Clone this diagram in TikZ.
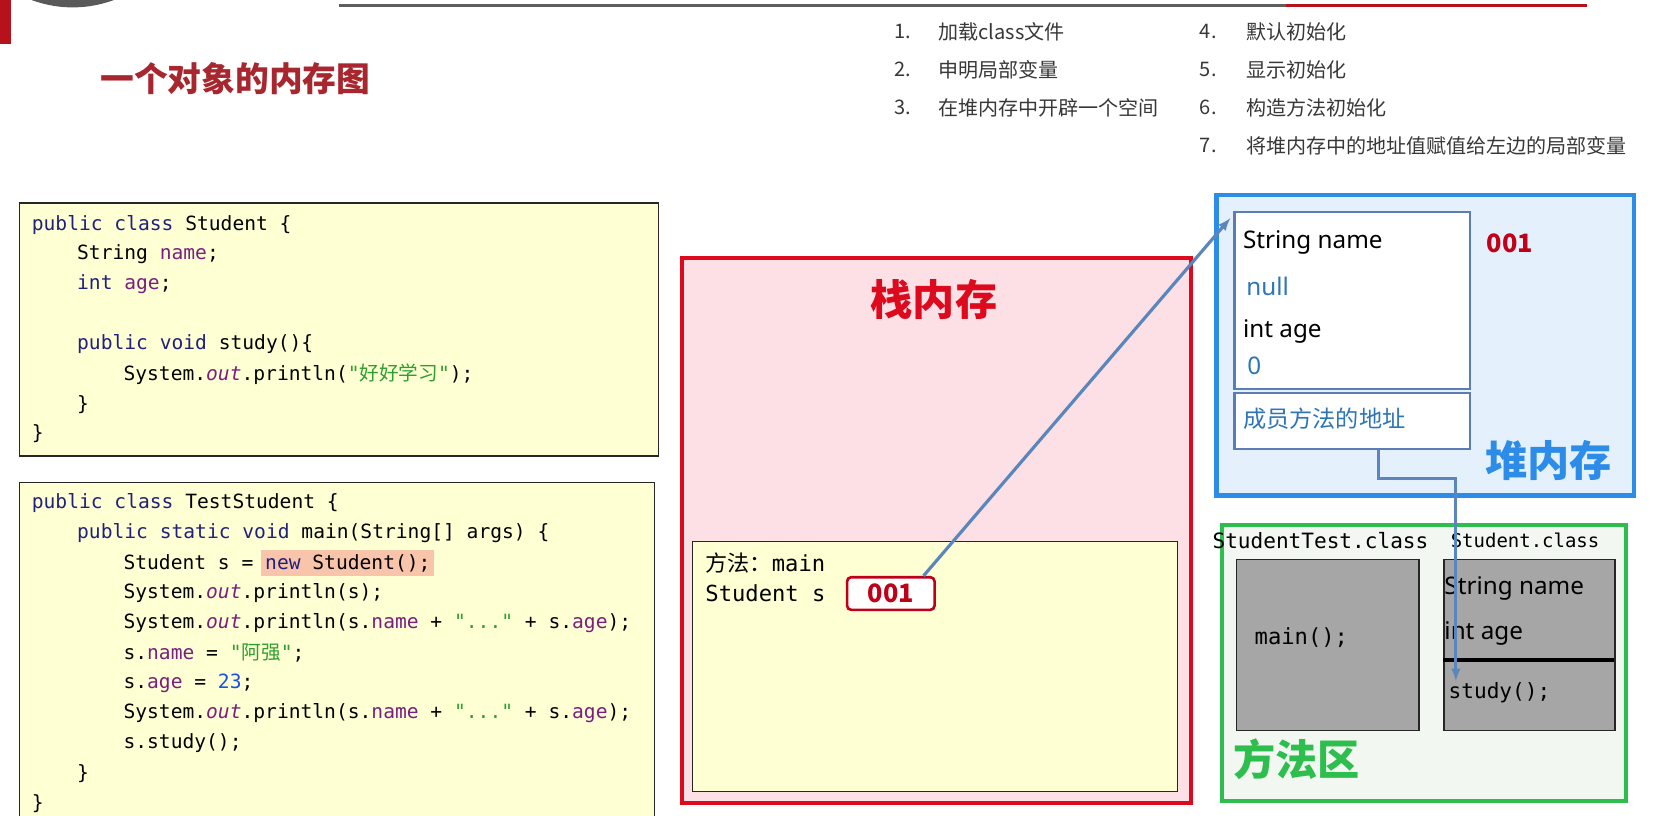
\documentclass[tikz,border=0pt]{standalone}
\usepackage{fontspec}
\setmainfont{Noto Sans}
\setmonofont{DejaVu Sans Mono}
\newfontfamily\cjk{Noto Sans CJK SC}
\usetikzlibrary{positioning}

\definecolor{rulegray}{HTML}{5E5E5E}
\definecolor{rulered}{HTML}{B5121B}
\definecolor{titlered}{HTML}{A8262E}
\definecolor{codeyellow}{HTML}{FFFFD4}
\definecolor{hlsalmon}{HTML}{F8C4AA}
\definecolor{kwblue}{HTML}{20207E}
\definecolor{fdpurple}{HTML}{7A1E82}
\definecolor{strgreen}{HTML}{2E9E2E}
\definecolor{numblue}{HTML}{1750EB}
\definecolor{stackred}{HTML}{DD0A1E}
\definecolor{stackpink}{HTML}{FDE0E5}
\definecolor{addrred}{HTML}{C00018}
\definecolor{refblue}{HTML}{5A86BD}
\definecolor{heapblue}{HTML}{2C8CE8}
\definecolor{heapfill}{HTML}{E4F1FC}
\definecolor{objblue}{HTML}{5B7DB1}
\definecolor{valblue}{HTML}{2E75B6}
\definecolor{areagreen}{HTML}{2DBE4E}
\definecolor{areafill}{HTML}{F3F7F1}
\definecolor{boxgray}{HTML}{A6A6A6}

\newcommand\jkw[1]{\textcolor{kwblue}{#1}}
\newcommand\jfd[1]{\textcolor{fdpurple}{#1}}
\newcommand\jout[1]{\textcolor{fdpurple}{\itshape #1}}
\newcommand\jstr[1]{\textcolor{strgreen}{#1}}
\newcommand\jnum[1]{\textcolor{numblue}{#1}}

\begin{document}
\begin{tikzpicture}[
  x=1pt, y=-1pt,
  every node/.style={inner sep=0pt},
  code/.style={anchor=west, font=\fontsize{18.6}{20}\selectfont\ttfamily},
  stepitem/.style={anchor=west, text=black!78, font=\cjk\fontsize{19}{21}\selectfont},
  region/.style={font=\cjk\bfseries\fontsize{40}{42}\selectfont},
  field/.style={anchor=west, font=\fontsize{23}{25}\selectfont},
  addrtext/.style={text=addrred, font=\cjk\bfseries\fontsize{24}{26}\selectfont},
  codebox/.style={anchor=north west, draw=black!85, line width=1.2pt, fill=codeyellow},
  objbox/.style={anchor=north west, draw=objblue, line width=2pt, fill=white},
  graybox/.style={anchor=north west, draw=black!85, line width=1.5pt, fill=boxgray},
  ref/.style={draw=refblue, line width=3pt, -latex}
]
\clip (0,0) rectangle (1568,774);
\fill[white] (0,0) rectangle (1568,774);

\fill[black!65] (69,-105) circle[radius=112pt];
\fill[rulered] (0,0) rectangle (10,42);
\draw[rulegray, line width=3pt] (322,5) -- (1220,5);
\draw[rulered, line width=3pt] (1220,5) -- (1505,5);
\node[anchor=west, text=titlered, font=\cjk\bfseries\fontsize{32}{34}\selectfont] (title) at (95,75) {一个对象的内存图};

\foreach \n/\t [count=\i from 0] in {1/加载class文件, 2/申明局部变量, 3/在堆内存中开辟一个空间} {
  \node[stepitem] (num\n) at (848,30+\i*36) {\n.};
  \node[stepitem] (txt\n) at (890,30+\i*36) {\t};
}
\foreach \n/\t [count=\i from 0] in {4/默认初始化, 5/显示初始化, 6/构造方法初始化, 7/将堆内存中的地址值赋值给左边的局部变量} {
  \node[stepitem] (num\n) at (1138,30+\i*36) {\n.};
  \node[stepitem] (txt\n) at (1182,30+\i*36) {\t};
}

\node[codebox, minimum width=606pt, minimum height=240pt] (student) at (18,192) {};
\foreach \x/\t [count=\i from 0] in {
  30/{\jkw{public} \jkw{class} Student \{},
  73/{String \jfd{name};},
  73/{\jkw{int} \jfd{age};},
  73/{},
  73/{\jkw{public} \jkw{void} study()\{},
  117/{System.\jout{out}.println(\jstr{"{\cjk 好好学习}"});},
  73/{\}},
  30/{\}}}
  \node[code] (sline\i) at (\x,213+\i*28.4) {\t};

\node[codebox, minimum width=602pt, minimum height=330pt] (test) at (18,457) {};
\fill[hlsalmon] (248,522) rectangle (412,546);
\foreach \x/\t [count=\i from 0] in {
  30/{\jkw{public} \jkw{class} TestStudent \{},
  73/{\jkw{public} \jkw{static} \jkw{void} main(String[] args) \{},
  117/{Student s = \jkw{new} Student();},
  117/{System.\jout{out}.println(s);},
  117/{System.\jout{out}.println(s.\jfd{name} + \jstr{"..."} + s.\jfd{age});},
  117/{s.\jfd{name} = \jstr{"{\cjk 阿强}"};},
  117/{s.\jfd{age} = \jnum{23};},
  117/{System.\jout{out}.println(s.\jfd{name} + \jstr{"..."} + s.\jfd{age});},
  117/{s.study();},
  73/{\}},
  30/{\}}}
  \node[code] (tline\i) at (\x,477+\i*28.5) {\t};

\node[anchor=north west, draw=stackred, line width=4pt, fill=stackpink, minimum width=483pt, minimum height=517pt] (stack) at (645,243) {};
\node[region, text=stackred] (stacklbl) at (886,284) {栈内存};
\node[codebox, minimum width=460pt, minimum height=237pt] (frame) at (656,513) {};
\node[anchor=west, font=\fontsize{21}{23}\selectfont\ttfamily] (mframe) at (669,534) {{\cjk 方法：}main};
\node[anchor=west, font=\fontsize{21}{23}\selectfont\ttfamily] (svar) at (669,563) {Student s};
\node[addrtext, draw=addrred, line width=2.5pt, rounded corners=4pt, fill=white, minimum width=83pt, minimum height=31pt] (s001) at (845,563) {001};

\node[anchor=north west, draw=heapblue, line width=4pt, fill=heapfill, minimum width=396pt, minimum height=285pt] (heap) at (1152,183) {};
\node[objbox, minimum width=223pt, minimum height=168pt] (obj) at (1170,200) {};
\node[objbox, minimum width=223pt, minimum height=53pt] (addr) at (1170,372) {};
\node[field] (fname) at (1179,230) {String name};
\node[field, text=valblue] (vname) at (1182,272) {null};
\node[field] (fage) at (1179,314) {int age};
\node[field, text=valblue] (vage) at (1183,347) {0};
\node[field, text=valblue, font=\cjk\fontsize{22}{24}\selectfont] (maddr) at (1179,397) {成员方法的地址};
\node[addrtext, anchor=west] (h001) at (1410,231) {001};
\node[region, text=heapblue] (heaplbl) at (1469,437) {堆内存};

\node[anchor=north west, draw=areagreen, line width=4pt, fill=areafill, minimum width=383pt, minimum height=262pt] (area) at (1157,496) {};
\node[anchor=west, font=\fontsize{20}{22}\selectfont\ttfamily] (clsA) at (1150,513) {StudentTest.class};
\node[anchor=west, font=\fontsize{18}{20}\selectfont\ttfamily] (clsB) at (1376,513) {Student.class};
\node[graybox, minimum width=173pt, minimum height=162pt] (boxA) at (1172,530) {};
\node[graybox, minimum width=162pt, minimum height=162pt] (boxB) at (1369,530) {};
\draw[black, line width=3pt] (1369,626) -- (1531,626);
\node[anchor=west, font=\fontsize{21}{23}\selectfont\ttfamily] (mmain) at (1190,605) {main();};
\node[field] (cname) at (1370,558) {String name};
\node[field] (cage) at (1370,601) {int age};
\node[anchor=west, font=\fontsize{20}{22}\selectfont\ttfamily] (mstudy) at (1374,657) {study();};
\node[region, anchor=west, text=areagreen] (arealbl) at (1170,720) {方法区};

\coordinate (studyin) at (1381,646);
\draw[ref] ([xshift=31pt]s001.north) -- ([shift={(-3pt,-7pt)}]obj.north west);
\draw[ref] ([xshift=25pt]addr.south) -- ++(0,27) -| (studyin);
\end{tikzpicture}
\end{document}
